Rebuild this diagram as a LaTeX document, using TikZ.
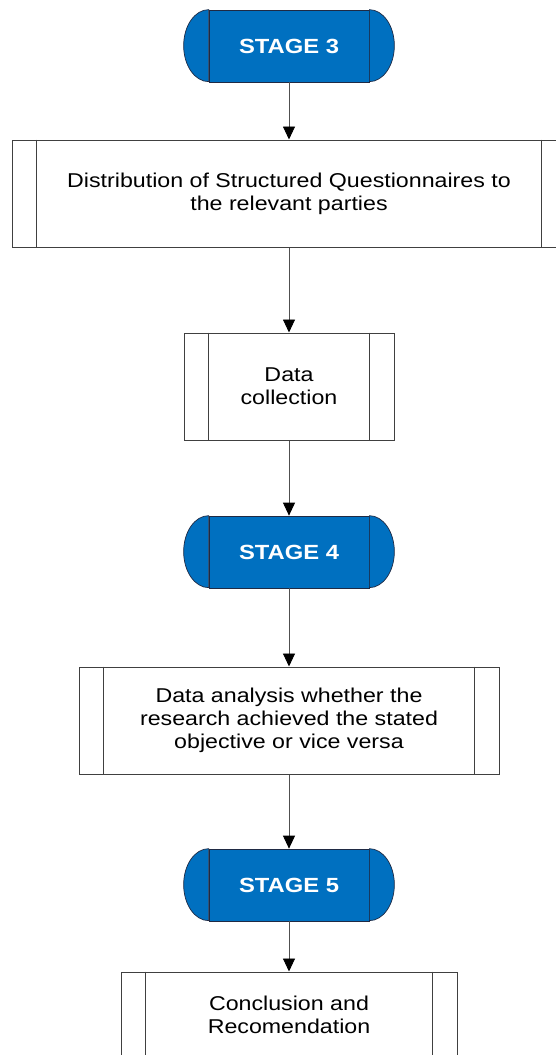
\documentclass[tikz,border=0pt]{standalone}
\usepackage{fontspec}
\setmainfont{Liberation Sans}[FakeStretch=1.16]
\usetikzlibrary{arrows.meta,positioning}
\definecolor{sblue}{HTML}{0070C0}
\definecolor{sedge}{HTML}{1F2A44}
\definecolor{pedge}{HTML}{404040}
\definecolor{aline}{HTML}{505050}
\tikzset{
  stagebox/.style={draw=sedge,fill=sblue,text=white,font=\fontsize{20.5}{24}\selectfont\bfseries,minimum width=160pt,minimum height=72pt,inner sep=0pt,line width=0.7pt},
  procbox/.style={draw=pedge,fill=white,align=center,font=\fontsize{20}{23.3}\selectfont,inner sep=0pt,line width=1pt},
  arr/.style={-{Triangle[length=13pt,width=12pt,color=black]},line width=0.9pt,draw=aline},
}
\begin{document}
\begin{tikzpicture}
  \useasboundingbox (0,0) rectangle (555pt,-1055pt);
  % stages and process boxes
  \node[stagebox] (s3) at (289pt,-46pt) {STAGE 3};
  \node[procbox,minimum width=554pt,minimum height=107pt] (p1) at (289pt,-193.5pt) {Distribution of Structured Questionnaires to\\the relevant parties};
  \node[procbox,minimum width=210pt,minimum height=107pt] (p2) at (289pt,-386.5pt) {Data\\collection};
  \node[stagebox] (s4) at (289pt,-552pt) {STAGE 4};
  \node[procbox,minimum width=420pt,minimum height=107pt] (p3) at (289pt,-720.5pt) {Data analysis whether the\\research achieved the stated\\objective or vice versa};
  \node[stagebox] (s5) at (289pt,-885pt) {STAGE 5};
  \node[procbox,minimum width=336pt,minimum height=86pt] (p4) at (289pt,-1015pt) {Conclusion and\\Recomendation};
  % rounded ends of the stages
  \foreach \s in {s3,s4,s5} {
    \filldraw[draw=sedge,fill=sblue,line width=0.7pt] (\s.north west) arc[start angle=90,end angle=270,x radius=25pt,y radius=36pt] -- cycle;
    \filldraw[draw=sedge,fill=sblue,line width=0.7pt] (\s.north east) arc[start angle=90,end angle=-90,x radius=25pt,y radius=36pt] -- cycle;
  }
  % side bars of the process boxes
  \foreach \p in {p1,p2,p3,p4} {
    \draw[pedge,line width=1pt] ([xshift=25pt]\p.north west) -- ([xshift=25pt]\p.south west);
    \draw[pedge,line width=1pt] ([xshift=-25pt]\p.north east) -- ([xshift=-25pt]\p.south east);
  }
  % arrows
  \draw[arr] (s3) -- (p1);
  \draw[arr] (p1) -- (p2);
  \draw[arr] (p2) -- (s4);
  \draw[arr] (s4) -- (p3);
  \draw[arr] (p3) -- (s5);
  \draw[arr] (s5) -- (p4);
\end{tikzpicture}
\end{document}
